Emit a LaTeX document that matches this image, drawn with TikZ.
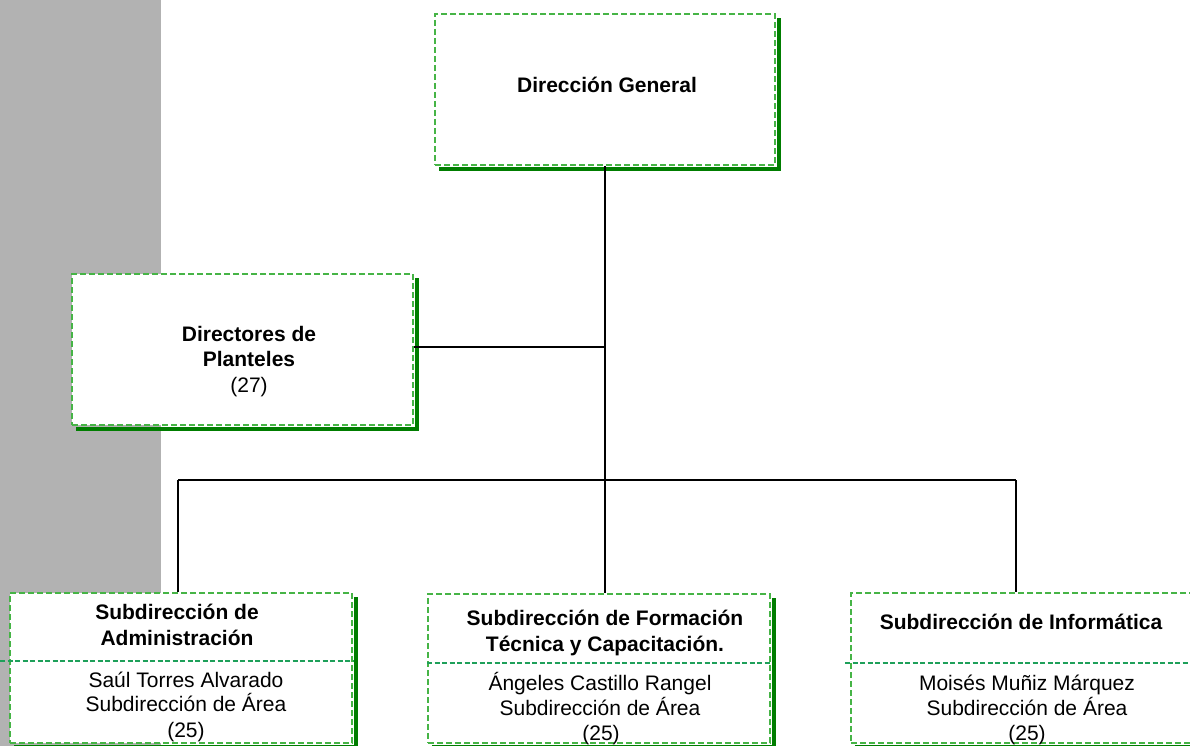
\documentclass[tikz,border=0pt]{standalone}
\usepackage{fontspec}
\setmainfont{Liberation Sans}
\definecolor{gband}{RGB}{178,178,178}
\definecolor{lgreen}{RGB}{70,180,70}
\definecolor{dgreen}{RGB}{0,125,0}
\definecolor{divgreen}{RGB}{30,160,90}
\begin{document}
\begin{tikzpicture}[x=1pt,y=-1pt,
  box/.style={draw=lgreen, fill=white, line width=1.9pt, dash pattern=on 6pt off 3pt, inner sep=0pt, rectangle},
  shad/.style={draw=dgreen, line width=4.5pt},
  divider/.style={draw=divgreen, line width=1.1pt, dash pattern=on 5pt off 2.5pt},
  conn/.style={draw=black, line width=2pt},
  bt/.style={font=\bfseries\fontsize{21}{25}\selectfont, anchor=base, inner sep=0pt},
  rt/.style={font=\fontsize{21}{25}\selectfont, anchor=base, inner sep=0pt}]
\useasboundingbox (0,0) rectangle (1190,746);
\fill[gband] (0,0) rectangle (161,746);
% connector junctions
\coordinate (jd) at (605,347);
\coordinate (jb) at (605,480);
\coordinate (bl) at (178,480);
\coordinate (br) at (1016,480);
% boxes
\node[box, minimum width=340pt, minimum height=151pt] (dg) at (605,89.5) {};
\node[box, minimum width=341pt, minimum height=151pt] (dir) at (242.5,349.5) {};
\node[box, minimum width=342pt, minimum height=150pt] (adm) at (181,668) {};
\node[box, minimum width=342pt, minimum height=149pt] (form) at (599,668.5) {};
\node[box, minimum width=340pt, minimum height=150pt] (info) at (1021,668) {};
% shadows
\foreach \b in {dg,dir,adm,form,info}{
  \draw[shad] ([shift={(3,5)}]\b.north east) -- ([shift={(3,3)}]\b.south east) -- ([shift={(5,3)}]\b.south west);
}
% connectors
\draw[conn] (dg.south) -- (jb);
\draw[conn] (jd) -- (jd -| dir.east);
\draw[conn] (bl) -- (br);
\draw[conn] (bl) -- (bl |- adm.north);
\draw[conn] (jb) -- (jb |- form.north);
\draw[conn] (br) -- (br |- info.north);
% dividers
\draw[divider] (0,661) -- (adm.east |- 0,661);
\draw[divider] (form.west |- 0,663) -- (form.east |- 0,663);
\draw[divider] (845,663) -- (1190,663);
% texts
\node[bt] (tdg) at (607,93) {Dirección General};
\node[bt] (tdir1) at (249,341) {Directores de};
\node[bt] (tdir2) at (249,366) {Planteles};
\node[rt] (tdir3) at (249,392) {(27)};
\node[bt] (tadm1) at (177,619) {Subdirección de};
\node[bt] (tadm2) at (177,645) {Administración};
\node[rt] (tadm3) at (186,687) {Saúl Torres Alvarado};
\node[rt] (tadm4) at (186,711) {Subdirección de Área};
\node[rt] (tadm5) at (186,737) {(25)};
\node[bt] (tform1) at (605,625) {Subdirección de Formación};
\node[bt] (tform2) at (605,651) {Técnica y Capacitación.};
\node[rt] (tform3) at (600,690) {Ángeles Castillo Rangel};
\node[rt] (tform4) at (600,715.5) {Subdirección de Área};
\node[rt] (tform5) at (601,740) {(25)};
\node[bt] (tinfo1) at (1021,629) {Subdirección de Informática};
\node[rt] (tinfo2) at (1027,690) {Moisés Muñiz Márquez};
\node[rt] (tinfo3) at (1027,715) {Subdirección de Área};
\node[rt] (tinfo4) at (1027,740) {(25)};
\end{tikzpicture}
\end{document}
